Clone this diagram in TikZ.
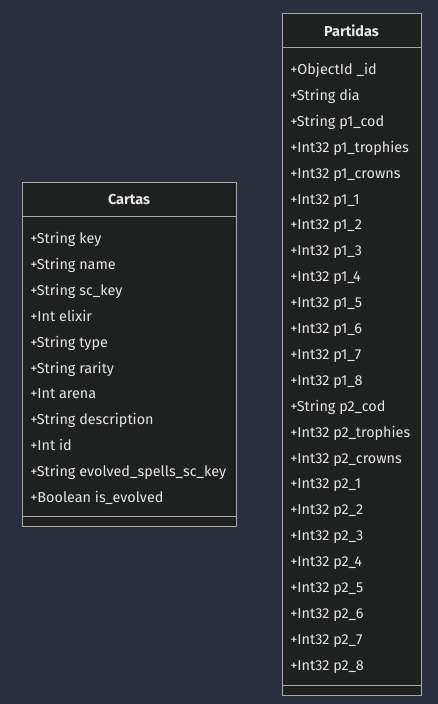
\documentclass[tikz,border=0pt]{standalone}
\usepackage{fontspec}
\setmainfont{Fira Sans}
\usetikzlibrary{positioning}
\definecolor{canvas}{HTML}{2B2F3B}
\definecolor{boxbg}{HTML}{1F2020}
\definecolor{boxline}{HTML}{A8A8A8}
\definecolor{txt}{HTML}{E6E6E6}

\tikzset{
  classbox/.style={draw=boxline, line width=0.75pt, fill=boxbg, inner sep=0pt, anchor=north west},
  sep/.style={draw=boxline, line width=0.75pt},
  title/.style={font=\fontsize{10.8pt}{13pt}\selectfont\bfseries, text=txt, inner sep=0pt},
  field/.style={font=\fontsize{10.8pt}{13pt}\selectfont, text=txt, inner sep=0pt, anchor=base west}
}

\begin{document}
\begin{tikzpicture}[x=0.75pt,y=-0.75pt]
  \fill[canvas] (0,0) rectangle (438,704);
  \useasboundingbox (0,0) rectangle (438,704);

  % Cartas
  \node[classbox, minimum width=160.5pt, minimum height=258pt] (cartas) at (22,182) {};
  \node[title] (cartastitle) at (129,200) {Cartas};
  \draw[sep] (22,216) -- (236,216);
  \draw[sep] (22,516) -- (236,516);
  \foreach \f [count=\i] in {+String key, +String name, +String sc\_key, +Int elixir,
      +String type, +String rarity, +Int arena, +String description, +Int id,
      +String evolved\_spells\_sc\_key, +Boolean is\_evolved}
    \node[field] (c\i) at (30,{243.5+(\i-1)*25.9}) {\f};

  % Partidas
  \node[classbox, minimum width=104.25pt, minimum height=511.5pt] (partidas) at (282,13) {};
  \node[title] (partidastitle) at (351.5,31) {Partidas};
  \draw[sep] (282,47) -- (421,47);
  \draw[sep] (282,685) -- (421,685);
  \foreach \f [count=\i] in {+ObjectId \_id, +String dia, +String p1\_cod, +Int32 p1\_trophies,
      +Int32 p1\_crowns, +Int32 p1\_1, +Int32 p1\_2, +Int32 p1\_3, +Int32 p1\_4,
      +Int32 p1\_5, +Int32 p1\_6, +Int32 p1\_7, +Int32 p1\_8, +String p2\_cod,
      +Int32 p2\_trophies, +Int32 p2\_crowns, +Int32 p2\_1, +Int32 p2\_2, +Int32 p2\_3,
      +Int32 p2\_4, +Int32 p2\_5, +Int32 p2\_6, +Int32 p2\_7, +Int32 p2\_8}
    \node[field] (p\i) at (290,{74.5+(\i-1)*25.9}) {\f};
\end{tikzpicture}
\end{document}
